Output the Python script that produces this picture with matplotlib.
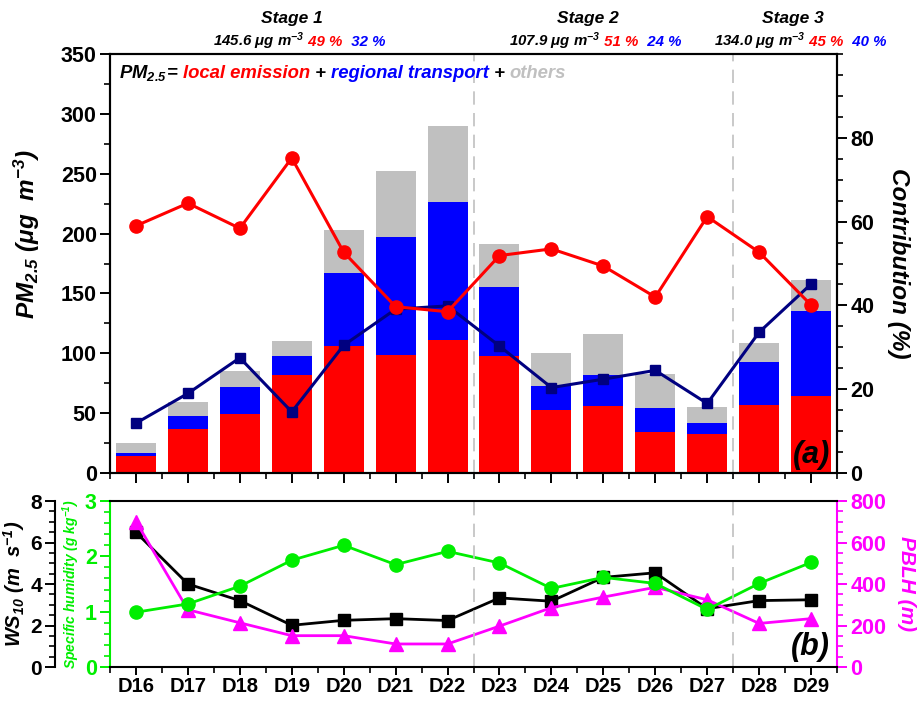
import numpy as np
import matplotlib
matplotlib.use("Agg")
import matplotlib.pyplot as plt
from matplotlib.offsetbox import TextArea, HPacker, AnnotationBbox
from matplotlib.ticker import MultipleLocator

plt.rcParams['font.family'] = ['Liberation Sans', 'DejaVu Sans']
plt.rcParams['font.weight'] = 'bold'
plt.rcParams['axes.labelweight'] = 'bold'
plt.rcParams['mathtext.fontset'] = 'custom'
plt.rcParams['mathtext.rm'] = 'Liberation Sans:italic:bold'
plt.rcParams['mathtext.it'] = 'Liberation Sans:italic:bold'
plt.rcParams['mathtext.bf'] = 'Liberation Sans:italic:bold'
plt.rcParams['mathtext.default'] = 'it'

days = ["D16", "D17", "D18", "D19", "D20", "D21", "D22",
        "D23", "D24", "D25", "D26", "D27", "D28", "D29"]

# PM2.5 split (ug m-3)
local = [14, 37, 49, 82, 106, 99, 111, 98, 53, 56, 34, 33, 57, 64]
regional = [3, 11, 23, 16, 61, 98, 115, 57, 20, 26, 20, 9, 36, 71]
others = [8, 11, 13, 12, 36, 55, 64, 36, 27, 34, 29, 13, 16, 26]

# contributions (%)
local_pct = [59.0, 64.4, 58.4, 75.2, 52.7, 39.7, 38.5, 51.9, 53.5, 49.4, 42.0, 61.2, 52.7, 40.1]
regional_pct = [11.9, 19.0, 27.5, 14.6, 30.5, 39.1, 39.9, 30.3, 20.4, 22.4, 24.5, 16.6, 33.6, 45.1]

# meteorology
ws10 = [6.49, 4.0, 3.2, 2.01, 2.25, 2.33, 2.24, 3.33, 3.17, 4.32, 4.54, 2.81, 3.2, 3.24]
humidity = [0.99, 1.14, 1.46, 1.93, 2.20, 1.85, 2.09, 1.88, 1.42, 1.62, 1.51, 1.04, 1.51, 1.89]
pblh = [701, 276, 213, 151, 151, 111, 111, 197, 286, 337, 384, 324, 210, 233]

stages = ["Stage 1", "Stage 2", "Stage 3"]
stage_mean = ["145.6", "107.9", "134.0"]
stage_local = ["49 %", "51 %", "45 %"]
stage_regional = ["32 %", "24 %", "40 %"]
stage_x = [3.0, 8.7, 12.65]
stage_breaks = [6.5, 11.5]

RED = '#FF0000'
BLUE = '#0000FF'
GRAY = '#C0C0C0'
NAVY = '#000080'
GREEN = '#00EE00'
MAGENTA = '#FF00FF'

x = np.arange(len(days))
local = np.array(local)
regional = np.array(regional)
others = np.array(others)

fig = plt.figure(figsize=(9.19, 7.01), dpi=100)
ax = fig.add_axes([0.1197, 0.3252, 0.7911, 0.5977])
axr = ax.twinx()
axb = fig.add_axes([0.1197, 0.0485, 0.7911, 0.2368])


def style_ticks(a, axis, color='black', labelsize=15.5):
    a.tick_params(axis=axis, which='major', direction='out', length=7, width=1.4,
                  labelsize=labelsize, colors=color, pad=2.5)
    a.tick_params(axis=axis, which='minor', direction='out', length=4, width=1.2,
                  colors=color)


# ---- panel (a)
ax.bar(x, local, width=0.77, color=RED)
ax.bar(x, regional, width=0.77, bottom=local, color=BLUE)
ax.bar(x, others, width=0.77, bottom=local + regional, color=GRAY)
for b in stage_breaks:
    ax.axvline(b, color=GRAY, ls=(0, (8, 5)), lw=1.2)

axr.plot(x, regional_pct, color=NAVY, marker='s', ms=7.5, lw=2.2)
axr.plot(x, local_pct, color=RED, marker='o', ms=9.5, lw=2.2)

ax.set_xlim(-0.5, 13.5)
ax.set_ylim(0, 350)
ax.yaxis.set_major_locator(MultipleLocator(50))
ax.yaxis.set_minor_locator(MultipleLocator(25))
ax.set_xticks(x)
ax.set_xticks(np.arange(-0.5, 14, 1), minor=True)
ax.set_xticklabels([])
axr.set_ylim(0, 100)
axr.set_yticks([0, 20, 40, 60, 80])
axr.yaxis.set_minor_locator(MultipleLocator(5))
style_ticks(ax, 'both')
style_ticks(axr, 'y')
for a in (ax, axr):
    for s in a.spines.values():
        s.set_linewidth(1.5)

ax.set_ylabel("PM$_{2.5}$ (μg  m$^{-3}$)", fontsize=17.5, fontstyle='italic')
ax.yaxis.set_label_coords(-0.094, 0.57)
axr.set_ylabel("Contribution (%)", fontsize=17.5, fontstyle='italic', rotation=270)
axr.yaxis.set_label_coords(1.10, 0.5)

ax.text(0.99, 0.008, "(a)", transform=ax.transAxes, ha='right', va='bottom',
        fontsize=22, fontweight='bold', fontstyle='italic', zorder=5)


def tbox(s, color, size):
    props = dict(color=color, fontsize=size, fontweight='bold', fontstyle='italic')
    return TextArea(s, textprops=props)


legend_parts = [("PM$_{2.5}$", 'black'), ("= ", 'black'), ("local emission", RED),
                (" + ", 'black'), ("regional transport", BLUE), (" + ", 'black'),
                ("others", GRAY)]
pack = HPacker(children=[tbox(s, c, 13.3) for s, c in legend_parts],
               align='baseline', pad=0, sep=0)
ab = AnnotationBbox(pack, (0.012, 0.955), xycoords=ax.transAxes, frameon=False,
                    box_alignment=(0, 0.5), annotation_clip=False)
ax.add_artist(ab)

for i in range(len(stages)):
    ax.text(stage_x[i], 1.086, stages[i], transform=ax.get_xaxis_transform(),
            ha='center', va='center', fontsize=12.5, fontweight='bold',
            fontstyle='italic')
    parts = [(stage_mean[i] + " μg m$^{-3}$", 'black'),
             (" " + stage_local[i], RED), ("  " + stage_regional[i], BLUE)]
    hp = HPacker(children=[tbox(s, c, 10.8) for s, c in parts],
                 align='baseline', pad=0, sep=0)
    ab = AnnotationBbox(hp, (stage_x[i] + 0.14, 1.031), xycoords=ax.get_xaxis_transform(),
                        frameon=False, box_alignment=(0.5, 0.5), annotation_clip=False)
    ax.add_artist(ab)

# ---- panel (b)
ws_ax = axb.twinx()
pb_ax = axb.twinx()

ws_ax.yaxis.set_ticks_position('left')
ws_ax.yaxis.set_label_position('left')
ws_ax.spines['left'].set_position(('axes', -0.0757))
ws_ax.spines['left'].set_visible(True)
for s in ('right', 'top', 'bottom'):
    ws_ax.spines[s].set_visible(False)
for s in ('left', 'top', 'bottom'):
    pb_ax.spines[s].set_visible(False)
axb.spines['right'].set_visible(False)

ws_ax.plot(x, ws10, color='black', marker='s', ms=8, lw=2)
pb_ax.plot(x, pblh, color=MAGENTA, marker='^', ms=10, lw=2)
axb.plot(x, humidity, color=GREEN, marker='o', ms=9.5, lw=2)
for b in stage_breaks:
    axb.axvline(b, color=GRAY, ls=(0, (8, 5)), lw=1.2)

axb.set_zorder(ws_ax.get_zorder() + 3)
axb.patch.set_visible(False)

axb.set_xlim(-0.5, 13.5)
axb.set_xticks(x)
axb.set_xticks(np.arange(-0.5, 14, 1), minor=True)
axb.set_xticklabels(days)
axb.set_ylim(0, 3)
axb.yaxis.set_major_locator(MultipleLocator(1))
axb.yaxis.set_minor_locator(MultipleLocator(0.2))
ws_ax.set_ylim(0, 8)
ws_ax.yaxis.set_major_locator(MultipleLocator(2))
ws_ax.yaxis.set_minor_locator(MultipleLocator(0.5))
pb_ax.set_ylim(0, 800)
pb_ax.yaxis.set_major_locator(MultipleLocator(200))
pb_ax.yaxis.set_minor_locator(MultipleLocator(50))

style_ticks(axb, 'x', 'black', 14.5)
axb.tick_params(axis='x', which='major', pad=1.5, length=6)
style_ticks(axb, 'y', GREEN, 15.5)
style_ticks(ws_ax, 'y', 'black', 15)
style_ticks(pb_ax, 'y', MAGENTA, 15.5)
axb.spines['left'].set_color(GREEN)
pb_ax.spines['right'].set_color(MAGENTA)
for a in (axb, ws_ax, pb_ax):
    for s in a.spines.values():
        s.set_linewidth(1.5)

ws_ax.set_ylabel("WS$_{10}$ (m  s$^{-1}$)", fontsize=14.5, fontstyle='italic')
ws_ax.yaxis.set_label_coords(-0.114, 0.5)
axb.set_ylabel("Specific humidity (g kg$^{-1}$)", fontsize=10, fontstyle='italic',
               color=GREEN)
axb.yaxis.set_label_coords(-0.039, 0.5)
pb_ax.set_ylabel("PBLH (m)", fontsize=15, fontstyle='italic', color=MAGENTA,
                 rotation=270)
pb_ax.yaxis.set_label_coords(1.109, 0.5)

axb.text(0.99, 0.03, "(b)", transform=axb.transAxes, ha='right', va='bottom',
         fontsize=22, fontweight='bold', fontstyle='italic', zorder=5)

fig.savefig("out.png", dpi=100)
